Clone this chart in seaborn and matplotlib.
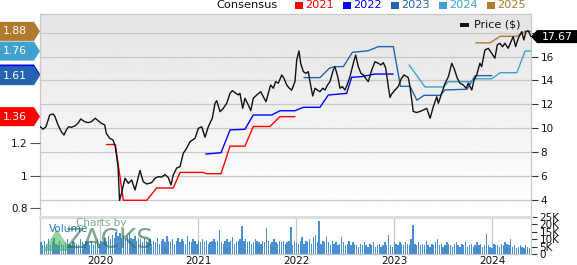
import numpy as np
import pandas as pd
import matplotlib
matplotlib.use('Agg')
import matplotlib.pyplot as plt
import matplotlib.patches as mpatches
import matplotlib.transforms as mtransforms
import seaborn as sns

sns.set_theme(style='white')
plt.rcParams['font.family'] = ['DejaVu Sans']

# ---------------- data ----------------
price_t = [2019.388, 2019.419, 2019.449, 2019.487, 2019.521, 2019.541, 2019.572, 2019.605, 2019.633, 2019.656,
           2019.681, 2019.707, 2019.742, 2019.776, 2019.803, 2019.844, 2019.878, 2019.911, 2019.952, 2019.980,
           2020.013, 2020.048, 2020.064, 2020.099, 2020.133, 2020.156, 2020.184, 2020.199, 2020.219, 2020.235,
           2020.255, 2020.289, 2020.323, 2020.357, 2020.408, 2020.441, 2020.476, 2020.527, 2020.561, 2020.594,
           2020.629, 2020.663, 2020.696, 2020.724, 2020.747, 2020.782, 2020.816, 2020.849, 2020.884, 2020.918,
           2020.969, 2021.003, 2021.037, 2021.071, 2021.104, 2021.145, 2021.173, 2021.190, 2021.224, 2021.257,
           2021.292, 2021.326, 2021.349, 2021.376, 2021.410, 2021.427, 2021.455, 2021.478, 2021.512, 2021.537,
           2021.563, 2021.598, 2021.639, 2021.665, 2021.693, 2021.716, 2021.740, 2021.767, 2021.791, 2021.818,
           2021.853, 2021.876, 2021.904, 2021.930, 2021.955, 2021.988, 2022.006, 2022.029, 2022.046, 2022.073,
           2022.100, 2022.124, 2022.141, 2022.169, 2022.192, 2022.216, 2022.243, 2022.271, 2022.294, 2022.320,
           2022.345, 2022.379, 2022.396, 2022.424, 2022.447, 2022.471, 2022.498, 2022.526, 2022.549, 2022.583,
           2022.607, 2022.634, 2022.661, 2022.685, 2022.709, 2022.736, 2022.771, 2022.804, 2022.838, 2022.865,
           2022.889, 2022.913, 2022.940, 2022.957, 2022.974, 2023.008, 2023.042, 2023.074, 2023.100, 2023.143,
           2023.161, 2023.194, 2023.229, 2023.263, 2023.297, 2023.332, 2023.366, 2023.399, 2023.434, 2023.450,
           2023.485, 2023.519, 2023.553, 2023.587, 2023.610, 2023.644, 2023.671, 2023.705, 2023.733, 2023.756,
           2023.791, 2023.814, 2023.841, 2023.874, 2023.892, 2023.925, 2023.959, 2023.994, 2024.027, 2024.051,
           2024.078, 2024.106, 2024.129, 2024.163, 2024.191, 2024.214, 2024.238, 2024.265, 2024.300, 2024.322,
           2024.343, 2024.367, 2024.395]
price_v = [10.15, 9.92, 10.13, 11.11, 11.20, 10.97, 10.28, 9.72, 9.44, 9.86,
           10.13, 10.08, 10.19, 10.42, 10.78, 10.55, 10.47, 10.55, 10.84, 10.64,
           10.42, 10.28, 9.58, 9.16, 9.02, 8.46, 6.79, 3.96, 4.56, 5.11,
           5.82, 5.40, 5.67, 4.84, 6.47, 5.53, 5.34, 5.46, 5.82, 5.95,
           5.92, 6.13, 5.88, 5.26, 6.09, 6.68, 6.79, 7.91, 8.33, 8.88,
           9.16, 10.00, 10.13, 9.25, 10.13, 10.84, 12.09, 12.31, 11.39, 11.67,
           12.09, 12.93, 13.15, 12.98, 12.79, 12.93, 11.67, 12.51, 11.95, 11.47,
           12.51, 12.79, 13.06, 12.64, 12.23, 12.93, 13.62, 13.35, 13.90, 13.77,
           14.46, 14.18, 13.62, 13.35, 13.20, 13.90, 15.72, 16.47, 15.44, 14.74,
           14.60, 14.74, 13.90, 12.70, 13.35, 13.20, 13.06, 13.35, 13.20, 13.62,
           13.90, 14.88, 15.15, 14.32, 13.35, 13.48, 13.20, 13.77, 14.32, 15.44,
           16.13, 15.15, 14.60, 14.46, 14.18, 13.90, 14.88, 15.57, 15.44, 15.30,
           15.49, 15.05, 13.48, 12.58, 12.87, 13.20, 13.50, 14.18, 14.46, 14.25,
           13.48, 11.41, 11.32, 11.41, 11.53, 11.67, 10.84, 11.81, 12.64, 12.09,
           12.93, 13.77, 14.32, 15.44, 15.02, 14.18, 13.77, 13.62, 13.35, 13.77,
           13.20, 14.04, 14.46, 15.44, 15.15, 16.55, 16.69, 16.28, 15.86, 16.97,
           17.11, 16.83, 17.11, 16.69, 17.25, 17.67, 16.83, 17.53, 18.08, 17.39,
           18.08, 18.17, 17.67]

e21_t = [2020.066, 2020.156, 2020.238, 2020.476, 2020.578, 2020.747, 2020.816, 2021.050, 2021.088, 2021.234,
         2021.326, 2021.478, 2021.563, 2021.733, 2021.835, 2021.988]
e21_v = [1.19, 1.19, 0.85, 0.85, 0.925, 0.925, 1.02, 1.02, 1.012, 1.012, 1.18, 1.18, 1.30, 1.30, 1.36, 1.36]

e22_t = [2021.078, 2021.234, 2021.326, 2021.478, 2021.563, 2021.751, 2021.835, 2021.988, 2022.073, 2022.243,
         2022.328, 2022.515, 2022.566, 2022.668, 2022.804, 2022.990]
e22_v = [1.132, 1.14, 1.279, 1.283, 1.37, 1.37, 1.396, 1.396, 1.417, 1.417, 1.492, 1.502, 1.60, 1.604, 1.62, 1.62]

e23_t = [2022.080, 2022.243, 2022.338, 2022.389, 2022.481, 2022.573, 2022.736, 2022.838, 2022.991, 2023.064,
         2023.161, 2023.232, 2023.304, 2023.467, 2023.519, 2023.743, 2023.825, 2023.995]
e23_v = [1.598, 1.598, 1.655, 1.665, 1.665, 1.752, 1.762, 1.787, 1.787, 1.545, 1.545, 1.46, 1.49, 1.49,
         1.523, 1.527, 1.61, 1.61]

e24_t = [2023.153, 2023.314, 2023.501, 2023.552, 2023.773, 2023.825, 2023.995, 2024.080, 2024.250, 2024.335, 2024.395]
e24_v = [1.675, 1.541, 1.541, 1.573, 1.573, 1.591, 1.591, 1.628, 1.628, 1.76, 1.76]

e25_t = [2023.832, 2023.978, 2024.080, 2024.250, 2024.335, 2024.395]
e25_v = [1.81, 1.81, 1.85, 1.85, 1.88, 1.88]

# weekly volume, thousands of shares
volume_k = [8, 6, 9, 7, 10, 6, 8, 11, 7, 6,
            9, 7, 6, 8, 10, 7, 6, 9, 8, 7,
            6, 10, 8, 7, 9, 8, 6, 9, 7, 8,
            10, 7, 9, 8, 11, 9, 12, 10, 13, 11,
            15, 12, 14, 11, 13, 10, 12, 14, 11, 10,
            12, 9, 11, 10, 8, 11, 9, 8, 10, 7,
            9, 8, 11, 7, 9, 10, 8, 12, 9, 8,
            10, 7, 9, 11, 8, 10, 9, 7, 12, 9,
            8, 10, 9, 7, 9, 8, 10, 8, 9, 7,
            8, 9, 10, 8, 9, 16, 8, 7, 9, 10,
            8, 9, 11.5, 7, 8, 9, 10, 19, 9, 10,
            8, 9, 7, 8, 10, 9, 8, 7, 9, 8,
            17.5, 9, 7, 8, 10, 8, 7, 9, 8, 9,
            7, 8, 9, 18, 6, 9, 8, 7, 9, 11.5,
            7, 9, 8, 10, 7, 11.5, 12.8, 8, 22.5, 7,
            9, 8, 11.5, 8, 6, 9, 7, 8, 6, 7,
            11.5, 8, 6, 7, 9, 6, 8, 7, 6, 5,
            7, 6, 8, 6, 5, 7, 6, 8, 5, 6,
            7, 5, 6, 8, 6, 12.8, 6, 5, 8, 7,
            6, 8, 7, 6, 8, 7, 6, 10, 19.6, 7,
            6, 8, 6, 7, 6, 8.7, 6, 5, 7, 6,
            8, 9.9, 6, 7, 5, 6, 8, 7, 6, 5,
            7, 8, 6, 5, 7, 6, 8, 5, 6, 7,
            5, 6, 8, 6, 7, 5, 6, 13.5, 6, 5,
            4, 7, 6, 6, 5, 7, 6, 8, 7, 6,
            9.9, 5, 6, 4, 5, 6, 5, 4, 6, 5,
            4]
vol_start = 2019.388
week = 7 / 365.25

years = [2020, 2021, 2022, 2023, 2024]
price_ticks = [4, 6, 8, 10, 12, 14, 16, 18]
eps_ticks = [0.8, 1.0, 1.2]
eps_tick_labels = ['0.8', '1', '1.2']
vol_ticks = [0, 5, 10, 15, 20, 25]
vol_tick_labels = ['0', '5K', '10K', '15K', '20K', '25K']
legend_years = ['2021', '2022', '2023', '2024', '2025']
colors = ['#ff0000', '#0000ff', '#2563b0', '#40a0d0', '#b07b2e']
last_price = 17.67

# ---------------- layout ----------------
W, H = 577, 265
fig = plt.figure(figsize=(W / 100, H / 100), dpi=100)
fig.patch.set_facecolor('white')
L, R, T, B = 40, 531, 14, 217
ax_p = fig.add_axes([L / W, 1 - B / H, (R - L) / W, (B - T) / H])
ax_v = fig.add_axes([L / W, 1 - 254 / H, (R - L) / W, (254 - 217) / H])
ax_e = ax_p.twinx()
ax_top = ax_p.twinx()

xlim = (2019.388, 2024.395)
plim = (2.58, 19.56)
elim = (0.748, 1.986)
grid_c = '#c8c8c8'

# gradient background
grad = np.linspace(0.895, 1.0, 256).reshape(-1, 1)
ax_p.imshow(grad, cmap='gray', vmin=0, vmax=1, extent=[xlim[0], xlim[1], plim[0], plim[1]],
            aspect='auto', origin='upper', zorder=0)
ax_p.set_xlim(xlim); ax_p.set_ylim(plim)
ax_p.set_xticks(years)
ax_p.set_yticks(price_ticks)
ax_p.set_yticklabels([str(v) for v in price_ticks[:-1]] + [''])
ax_p.grid(True, color=grid_c, lw=0.9)
ax_p.set_axisbelow(True)
ax_p.tick_params(axis='x', bottom=False, labelbottom=False)
ax_p.yaxis.tick_right()
ax_p.tick_params(axis='y', right=True, left=False, labelright=True, labelleft=False, length=5,
                 width=0.8, color='#333333', pad=2, labelsize=7.5, labelcolor='#111111')
for s in ax_p.spines.values():
    s.set_color(grid_c); s.set_linewidth(0.9)

# EPS axis (left)
for t, v, c in zip([e21_t, e22_t, e23_t, e24_t, e25_t], [e21_v, e22_v, e23_v, e24_v, e25_v], colors):
    sns.lineplot(x=t, y=v, ax=ax_e, color=c, linewidth=1.0, estimator=None, sort=False)
ax_e.set_xlim(xlim); ax_e.set_ylim(elim)
ax_e.yaxis.tick_left()
ax_e.yaxis.set_label_position('left')
ax_e.set_yticks(eps_ticks)
ax_e.set_yticklabels(eps_tick_labels)
ax_e.tick_params(axis='y', left=True, right=False, labelleft=True, labelright=False, length=7,
                 width=0.8, color='#555555', pad=2, labelsize=7.5, labelcolor='#111111')
ax_e.tick_params(axis='x', bottom=False, labelbottom=False)
ax_e.grid(False)
for s in ax_e.spines.values():
    s.set_visible(False)

# price line on top
sns.lineplot(x=price_t, y=price_v, ax=ax_top, color='#111111', linewidth=1.0, estimator=None, sort=False)
ax_top.set_xlim(xlim); ax_top.set_ylim(plim)
ax_top.set_yticks([]); ax_top.set_xticks([])
ax_top.grid(False)
for s in ax_top.spines.values():
    s.set_visible(False)

# volume panel
vol_t = vol_start + week * (np.arange(len(volume_k)) + 0.5)
ax_v.bar(vol_t, volume_k, width=week * 0.72, color='#4a8fd0', edgecolor='none', zorder=3)
ax_v.set_xlim(xlim); ax_v.set_ylim(0, 25)
ax_v.set_xticks(years)
ax_v.set_xticklabels([str(y) for y in years])
ax_v.set_yticks(vol_ticks)
ax_v.set_yticklabels(vol_tick_labels)
ax_v.yaxis.tick_right()
ax_v.tick_params(axis='y', right=True, left=False, labelright=True, labelleft=False, length=4,
                 width=0.8, color='#333333', pad=2, labelsize=7.5, labelcolor='#111111')
ax_v.tick_params(axis='x', bottom=False, length=0, pad=1.5, labelsize=7.5, labelcolor='#111111')
ax_v.grid(True, axis='x', color=grid_c, lw=0.9)
ax_v.grid(False, axis='y')
ax_v.set_axisbelow(True)
ax_v.set_facecolor('white')
for s in ax_v.spines.values():
    s.set_color(grid_c); s.set_linewidth(0.9)
ax_v.spines['top'].set_color('#dddddd'); ax_v.spines['top'].set_linewidth(2.2)

# watermark / volume label
def fx(px):
    return px / W

def fy(py):
    return 1 - py / H

fig.text(fx(69), fy(229), 'Volume', color='#2a7ac0', fontsize=7.6, ha='center', va='center', zorder=10)
fig.text(fx(101), fy(222.5), 'Charts by', color='#5f9f70', alpha=0.85, fontsize=7.5,
         ha='center', va='center', zorder=10)
tri = mpatches.Polygon([(fx(43), fy(251)), (fx(57), fy(229)), (fx(71), fy(251))], closed=True,
                       transform=fig.transFigure, facecolor='#3fae5a', alpha=0.55, edgecolor='none', zorder=9)
fig.add_artist(tri)
fig.text(fx(110), fy(241.5), 'ZACKS', color='#2e6b45', alpha=0.6, fontsize=19,
         ha='center', va='center', zorder=10)

# legend at top
fig.text(fx(247), fy(5), 'Consensus', color='#111111', fontsize=8.2, ha='center', va='center')
sq_x = [295, 343, 391, 439, 487]
for sx, lab, c in zip(sq_x, legend_years, colors):
    fig.add_artist(mpatches.Rectangle((fx(sx), fy(8.5)), 8 / W, 7 / H, transform=fig.transFigure,
                                      facecolor=c, edgecolor='none'))
    fig.text(fx(sx + 10), fy(5), lab, color=c, fontsize=8.2, ha='left', va='center')

# Price legend inside plot
fig.add_artist(mpatches.Rectangle((fx(460), fy(27)), 9 / W, 4.5 / H, transform=fig.transFigure,
                                  facecolor='#111111', edgecolor='none', zorder=10))
fig.text(fx(474), fy(24.8), 'Price ($)', color='#111111', fontsize=8.0, ha='left', va='center', zorder=10)

# value tags
fig.canvas.draw()
ident = mtransforms.IdentityTransform()
z = [20]

def left_tag(val, color, label):
    x0, y0 = ax_e.get_yaxis_transform().transform((0, val))
    h = 9.5
    verts = [(x0 - 41, y0 - h), (x0 - 6, y0 - h), (x0, y0), (x0 - 6, y0 + h), (x0 - 41, y0 + h)]
    fig.add_artist(mpatches.Polygon(verts, closed=True, transform=ident, facecolor=color,
                                    edgecolor='none', zorder=z[0]))
    if label:
        fig.text((x0 - 25) / W, y0 / H, label, color='white', fontsize=7.8, ha='center', va='center',
                 zorder=z[0] + 0.5)
    z[0] += 1

left_tag(e21_v[-1], colors[0], '1.36')
left_tag(e22_v[-1], colors[1], None)
left_tag(e23_v[-1], colors[2], '1.61')
left_tag(e24_v[-1], colors[3], '1.76')
left_tag(e25_v[-1], colors[4], '1.88')

x0, y0 = ax_p.get_yaxis_transform().transform((1, last_price))
h = 6.5
verts = [(x0, y0), (x0 + 6, y0 + h), (W, y0 + h), (W, y0 - h), (x0 + 6, y0 - h)]
fig.add_artist(mpatches.Polygon(verts, closed=True, transform=ident, facecolor='#000000',
                                edgecolor='none', zorder=30))
fig.text((x0 + 26) / W, y0 / H, f'{last_price:.2f}', color='white', fontsize=7.8, ha='center',
         va='center', zorder=31)

fig.savefig('out.png', dpi=100, facecolor='white')
